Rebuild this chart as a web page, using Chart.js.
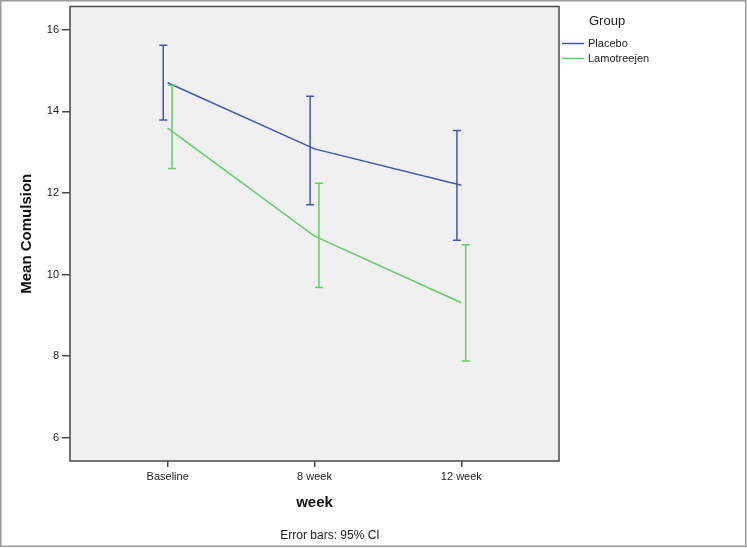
<!DOCTYPE html>
<html>
<head>
<meta charset="utf-8">
<script src="https://cdn.jsdelivr.net/npm/chart.js@4"></script>
<style>
  html, body { margin: 0; padding: 0; background: #fff; }
  #wrap { width: 747px; height: 548px; }
</style>
</head>
<body>
<div id="wrap"><canvas id="chart" width="747" height="548"></canvas></div>
<script>
// Data
const weeks = ['Baseline', '8 week', '12 week'];
const yTicks = [6, 8, 10, 12, 14, 16];

const placeboMean  = [14.70, 13.08, 12.19];
const placeboLower = [13.79, 11.71, 10.84];
const placeboUpper = [15.62, 14.37, 13.53];

const lamoMean  = [13.59, 10.94, 9.31];
const lamoLower = [12.60, 9.68, 7.88];
const lamoUpper = [14.64, 12.24, 10.73];

const blue = '#4456ae';
const green = '#62cc6c';

// Draw plot background, frame, error bars, legend and footnote
const spssPlugin = {
    id: 'spss',
    beforeDraw(chart) {
        const { ctx, chartArea: a } = chart;
        ctx.save();
        ctx.fillStyle = '#f0f0f0';
        ctx.fillRect(a.left, a.top, a.right - a.left, a.bottom - a.top);
        ctx.restore();
    },
    afterDatasetsDraw(chart) {
        const { ctx, chartArea: a, scales } = chart;
        const x = scales.x, y = scales.y;
        const bars = [
            { lo: placeboLower, hi: placeboUpper, color: blue, shift: -0.03 },
            { lo: lamoLower, hi: lamoUpper, color: green, shift: 0.03 }
        ];
        ctx.save();
        ctx.lineWidth = 1.5;
        bars.forEach(b => {
            ctx.strokeStyle = b.color;
            b.lo.forEach((lo, i) => {
                const px = x.getPixelForValue(i + b.shift);
                const top = y.getPixelForValue(b.hi[i]);
                const bot = y.getPixelForValue(lo);
                ctx.beginPath();
                ctx.moveTo(px, top); ctx.lineTo(px, bot);
                ctx.moveTo(px - 4, top); ctx.lineTo(px + 4, top);
                ctx.moveTo(px - 4, bot); ctx.lineTo(px + 4, bot);
                ctx.stroke();
            });
        });

        // plot frame
        ctx.strokeStyle = '#4a4a4a';
        ctx.lineWidth = 1.5;
        ctx.strokeRect(a.left, a.top, a.right - a.left, a.bottom - a.top);

        // legend
        ctx.fillStyle = '#222';
        ctx.textBaseline = 'middle';
        ctx.font = '13px "Liberation Sans", Arial, sans-serif';
        ctx.fillText('Group', 589, 21);
        ctx.font = '11px "Liberation Sans", Arial, sans-serif';
        chart.data.datasets.forEach((ds, i) => {
            const ly = 43.5 + i * 15;
            ctx.strokeStyle = ds.borderColor;
            ctx.lineWidth = 1.5;
            ctx.beginPath();
            ctx.moveTo(562, ly); ctx.lineTo(584, ly);
            ctx.stroke();
            ctx.fillText(ds.label, 588, ly);
        });

        // footnote
        ctx.font = '12px "Liberation Sans", Arial, sans-serif';
        ctx.textAlign = 'center';
        ctx.fillText('Error bars: 95% CI', 330, 536);

        // outer frame
        ctx.strokeStyle = '#9a9a9a';
        ctx.lineWidth = 1.5;
        ctx.strokeRect(0.75, 0.75, 745, 545.5);
        ctx.restore();
    }
};

new Chart(document.getElementById('chart'), {
    type: 'line',
    data: {
        datasets: [{
            label: 'Placebo',
            data: placeboMean.map((v, i) => ({ x: i, y: v })),
            borderColor: blue,
            borderWidth: 1.5,
            pointRadius: 0,
            tension: 0
        }, {
            label: 'Lamotreejen',
            data: lamoMean.map((v, i) => ({ x: i, y: v })),
            borderColor: green,
            borderWidth: 1.5,
            pointRadius: 0,
            tension: 0
        }]
    },
    options: {
        responsive: false,
        animation: false,
        devicePixelRatio: 1,
        layout: { padding: { left: 0, top: 6.5, right: 188, bottom: 0 } },
        plugins: {
            legend: { display: false },
            tooltip: { enabled: false }
        },
        scales: {
            x: {
                type: 'linear',
                min: -0.665,
                max: 2.665,
                afterBuildTicks(scale) {
                    scale.ticks = weeks.map((w, i) => ({ value: i }));
                },
                afterFit(scale) {
                    scale.height = 87;
                    scale.paddingLeft = 0;
                    scale.paddingRight = 0;
                },
                ticks: {
                    callback: v => weeks[v],
                    color: '#222',
                    font: { size: 11, family: '"Liberation Sans", Arial, sans-serif' },
                    padding: 3,
                    maxRotation: 0
                },
                grid: { drawOnChartArea: false, drawTicks: true, tickLength: 6, color: '#4a4a4a', lineWidth: 1.5 },
                border: { display: false },
                title: {
                    display: true,
                    text: 'week',
                    color: '#111',
                    font: { size: 15, weight: 'bold', family: '"Liberation Sans", Arial, sans-serif' },
                    padding: { top: 0, bottom: 36 }
                }
            },
            y: {
                min: 5.43,
                max: 16.57,
                afterBuildTicks(scale) {
                    scale.ticks = yTicks.map(v => ({ value: v }));
                },
                afterFit(scale) {
                    scale.width = 70;
                    scale.paddingTop = 0;
                    scale.paddingBottom = 0;
                },
                ticks: {
                    color: '#222',
                    font: { size: 11, family: '"Liberation Sans", Arial, sans-serif' },
                    padding: 3
                },
                grid: { drawOnChartArea: false, drawTicks: true, tickLength: 8, color: '#4a4a4a', lineWidth: 1.5 },
                border: { display: false },
                title: {
                    display: true,
                    text: 'Mean Comulsion',
                    color: '#111',
                    font: { size: 15, weight: 'bold', family: '"Liberation Sans", Arial, sans-serif' },
                    padding: { top: 18, bottom: 0 }
                }
            }
        }
    },
    plugins: [spssPlugin]
});
</script>
</body>
</html>
